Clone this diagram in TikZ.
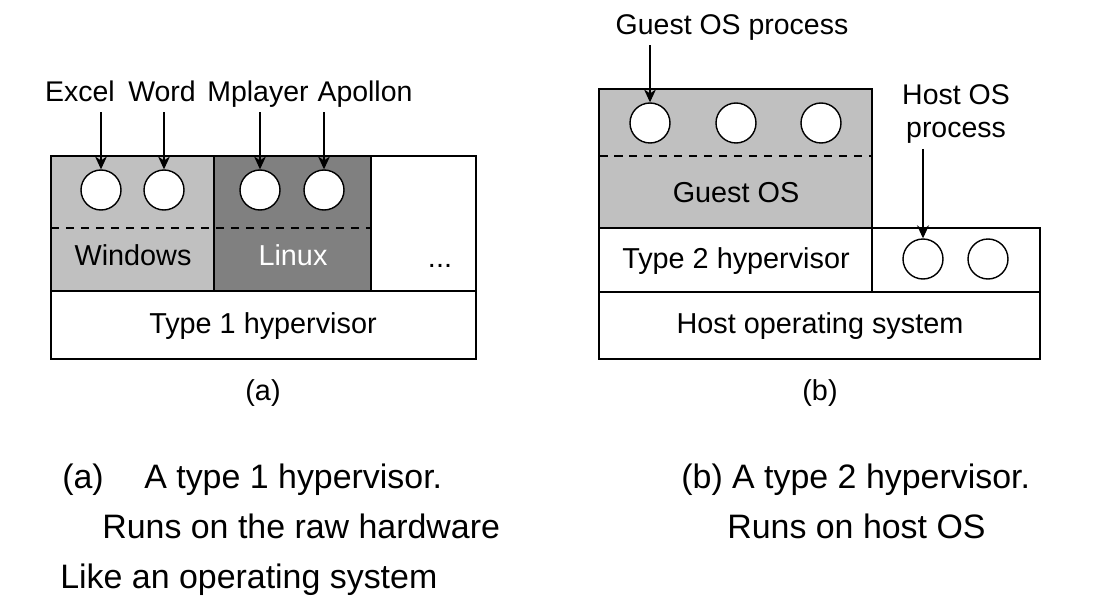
\documentclass[tikz,border=0pt]{standalone}
\usepackage{fontspec}
\setmainfont{Liberation Sans}
\usetikzlibrary{arrows.meta}
\definecolor{winGray}{RGB}{192,192,192}
\definecolor{linGray}{RGB}{128,128,128}
\tikzstyle{pS}=[circle,minimum size = 0.8cm,inner sep = 0pt,draw,line width=0.8pt,fill=white]
\tikzstyle{tS}=[anchor=base,inner sep = 0pt, font=\fontsize{16.4}{19.5}\selectfont]
\tikzstyle{lS}=[anchor=base,inner sep = 3pt,text depth=0.25em, font=\fontsize{16.2}{19.5}\selectfont]
\tikzstyle{hS}=[inner sep = 3pt, font=\fontsize{16.2}{18.5}\selectfont,align=center]
\tikzstyle{bS}=[line width=1.1pt,draw=black]
\tikzstyle{dS}=[line width=1pt,dash pattern=on 0.17cm off 0.13cm]
\tikzstyle{aS}=[line width=0.7pt,-{Stealth[length=0.26cm,width=0.24cm]}]
\tikzstyle{cS}=[anchor=base west,inner sep = 0pt, font=\fontsize{19.3}{23}\selectfont]

\begin{document}
\begin{tikzpicture}[x=0.02cm,y=-0.02cm]
                \useasboundingbox (0,0) rectangle (1106,608);
                % (a) type 1 hypervisor
                \fill[winGray] (51,156) rectangle (214,291);
                \fill[linGray] (214,156) rectangle (371,291);
                \draw[dS] (51,228) -- (371,228);
                \draw[bS] (51,156) rectangle (476,359) (51,291) -- (476,291)
                    (214,156) -- (214,291) (371,156) -- (371,291);
                \draw (101,190) node[pS] (c1) {};
                \draw (164,190) node[pS] (c2) {};
                \draw (260,190) node[pS] (c3) {};
                \draw (324,190) node[pS] (c4) {};
                \draw (80,102) node[lS] (excel) {Excel};
                \draw (162,102) node[lS] (word) {Word};
                \draw (258,102) node[lS] (mplayer) {Mplayer};
                \draw (365,102) node[lS] (apollon) {Apollon};
                \draw (133,265) node[tS] (windows) {Windows};
                \draw (293,265) node[tS,text=white] (linux) {Linux};
                \draw (440,267) node[tS] (dots) {...};
                \draw (263,333) node[tS] (hyp1) {Type 1 hypervisor};
                \draw (263,400) node[tS] (capa) {(a)};
                \path
                    (excel.south -| c1) edge[aS] (c1.north)
                    (word.south -| c2) edge[aS] (c2.north)
                    (mplayer.south -| c3) edge[aS] (c3.north)
                    (apollon.south -| c4) edge[aS] (c4.north)
                ;
                % (b) type 2 hypervisor
                \fill[winGray] (599,89) rectangle (872,228);
                \draw[dS] (599,156) -- (872,156);
                \draw[bS] (599,89) rectangle (872,228) (599,228) rectangle (1040,359)
                    (599,292) -- (1040,292) (872,228) -- (872,292);
                \draw (650,123) node[pS] (g1) {};
                \draw (736,123) node[pS] (g2) {};
                \draw (821,123) node[pS] (g3) {};
                \draw (923,259) node[pS] (h1) {};
                \draw (988,259) node[pS] (h2) {};
                \draw (732,35) node[lS] (gproc) {Guest OS process};
                \draw (956,114) node[hS] (hproc) {Host OS\\process};
                \draw (736,202) node[tS] (guest) {Guest OS};
                \draw (736,268) node[tS] (hyp2) {Type 2 hypervisor};
                \draw (820,333) node[tS] (host) {Host operating system};
                \draw (820,400) node[tS] (capb) {(b)};
                \path
                    (gproc.south -| g1) edge[aS] (g1.north)
                    (hproc.south -| h1) edge[aS] (h1.north)
                ;
                % captions
                \draw (62,488) node[cS] (a1) {(a)};
                \draw (144,488) node[cS] (a2) {A type 1 hypervisor.};
                \draw (102,538) node[cS] (a3) {Runs on the raw hardware};
                \draw (60,588) node[cS] (a4) {Like an operating system};
                \draw (681,488) node[cS] (b1) {(b) A type 2 hypervisor.};
                \draw (727,538) node[cS] (b2) {Runs on host OS};
        \end{tikzpicture}
\end{document}
